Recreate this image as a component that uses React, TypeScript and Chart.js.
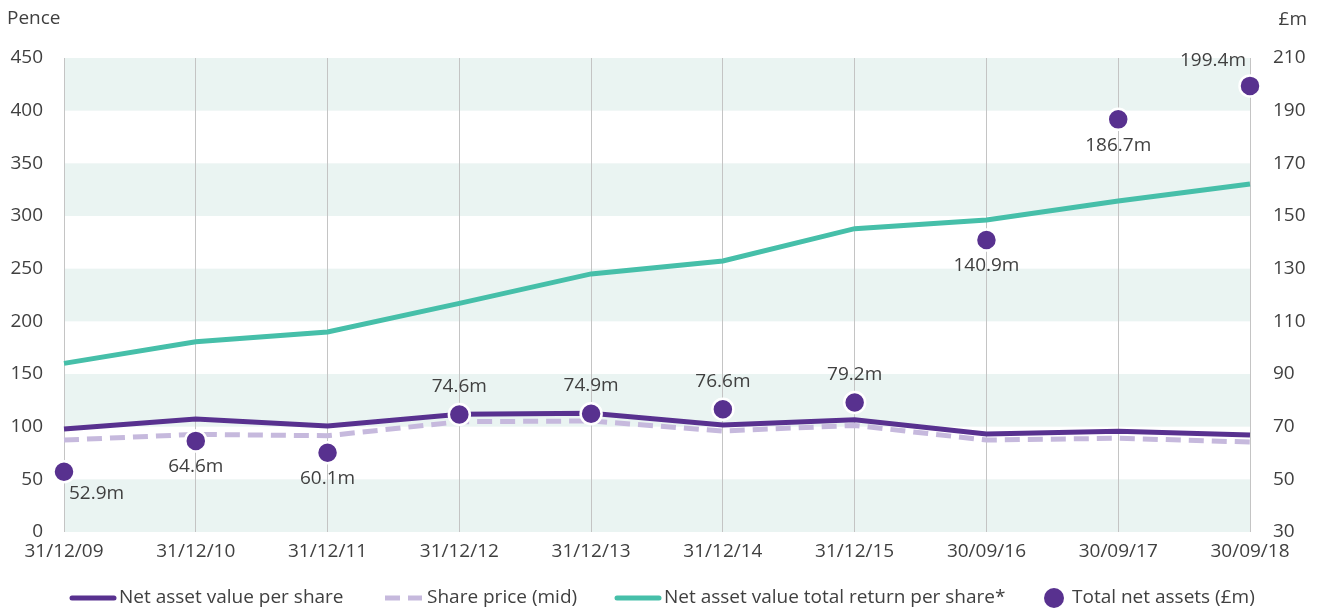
import React, { useEffect, useRef } from "react";
import { Chart, registerables } from "chart.js";

Chart.register(...registerables);

const categories = ["31/12/09", "31/12/10", "31/12/11", "31/12/12", "31/12/13", "31/12/14", "31/12/15", "30/09/16", "30/09/17", "30/09/18"];
const navPerShare = [97.8, 107.3, 100.6, 111.7, 112.7, 101.6, 106.5, 93, 95.6, 92];
const sharePrice = [87.3, 92.7, 91.4, 104.7, 105.4, 95.9, 101.2, 87.3, 89, 85.4];
const navTotalReturn = [160.1, 180.7, 189.9, 217, 245, 257.3, 288, 296.2, 314.2, 330.4];
const totalNetAssets = [52.9, 64.6, 60.1, 74.6, 74.9, 76.6, 79.2, 140.9, 186.7, 199.4];
const labelPlacement = ["belowRight", "below", "below", "above", "above", "above", "above", "below", "below", "aboveLeft"];

const seriesNames = ["Net asset value per share", "Share price (mid)", "Net asset value total return per share*", "Total net assets (£m)"];
const leftTitle = "Pence";
const rightTitle = "£m";

const PURPLE = "#58318f";
const LAVENDER = "#c6b9dd";
const TEAL = "#46bfa9";
const BAND = "#eaf4f2";
const TEXT = "#404040";
const FONT = "'Open Sans', sans-serif";
const FS = 19;

const bandsPlugin = {
  id: "bands",
  beforeDraw(chart: any) {
    const { ctx, chartArea, scales } = chart;
    const y = scales.y;
    ctx.save();
    ctx.fillStyle = BAND;
    for (let v = 0; v < 450; v += 100) {
      const top = y.getPixelForValue(v + 50);
      const bot = y.getPixelForValue(v);
      ctx.fillRect(chartArea.left, top, chartArea.right - chartArea.left, bot - top);
    }
    ctx.restore();
  },
};

const dotLabelsPlugin = {
  id: "dotLabels",
  afterDatasetsDraw(chart: any) {
    const { ctx } = chart;
    const meta = chart.getDatasetMeta(3);
    ctx.save();
    ctx.font = `${FS}px ${FONT}`;
    ctx.fillStyle = TEXT;
    ctx.textBaseline = "middle";
    meta.data.forEach((pt: any, i: number) => {
      const txt = `${totalNetAssets[i].toFixed(1)}m`;
      const p = labelPlacement[i];
      let x = pt.x;
      let y = pt.y;
      ctx.textAlign = "center";
      if (p === "below") y += 26;
      else if (p === "above") y -= 28;
      else if (p === "belowRight") {
        ctx.textAlign = "left";
        x += 5;
        y += 22;
      } else if (p === "aboveLeft") {
        ctx.textAlign = "right";
        x -= 4;
        y -= 25;
      }
      ctx.fillText(txt, x, y);
    });
    ctx.restore();
  },
};

const extrasPlugin = {
  id: "extras",
  afterDraw(chart: any) {
    const { ctx } = chart;
    ctx.save();
    ctx.font = `${FS}px ${FONT}`;
    ctx.fillStyle = TEXT;
    ctx.textBaseline = "middle";
    ctx.textAlign = "left";
    ctx.fillText(leftTitle, 7, 19);
    ctx.textAlign = "right";
    ctx.fillText(rightTitle, 1307, 20);

    // legend
    const ly = 598;
    const items = [
      { x0: 72, x1: 114, tx: 119, color: PURPLE, dash: [] as number[], kind: "line" },
      { x0: 385, x1: 422, tx: 427, color: LAVENDER, dash: [15, 8], kind: "line" },
      { x0: 617, x1: 659, tx: 664, color: TEAL, dash: [] as number[], kind: "line" },
      { x0: 1044, x1: 1064, tx: 1072, color: PURPLE, dash: [] as number[], kind: "dot" },
    ];
    items.forEach((it, i) => {
      if (it.kind === "line") {
        ctx.beginPath();
        ctx.strokeStyle = it.color;
        ctx.lineWidth = 5;
        ctx.lineCap = it.dash.length ? "butt" : "round";
        ctx.setLineDash(it.dash);
        ctx.moveTo(it.x0, ly);
        ctx.lineTo(it.x1, ly);
        ctx.stroke();
        ctx.setLineDash([]);
      } else {
        ctx.beginPath();
        ctx.fillStyle = it.color;
        ctx.arc((it.x0 + it.x1) / 2, ly, 10, 0, Math.PI * 2);
        ctx.fill();
      }
      ctx.fillStyle = TEXT;
      ctx.textAlign = "left";
      ctx.fillText(seriesNames[i], it.tx, ly);
    });
    ctx.restore();
  },
};

export default function App() {
  const ref = useRef<HTMLCanvasElement | null>(null);
  useEffect(() => {
    document.body.style.margin = "0";
    const canvas = ref.current!;
    const chart = new Chart(canvas, {
      type: "line",
      data: {
        labels: categories,
        datasets: [
          {
            label: seriesNames[0],
            data: navPerShare,
            borderColor: PURPLE,
            borderWidth: 5,
            pointRadius: 0,
            yAxisID: "y",
            order: 1,
            tension: 0,
          },
          {
            label: seriesNames[1],
            data: sharePrice,
            borderColor: LAVENDER,
            borderWidth: 5,
            borderDash: [15, 8],
            pointRadius: 0,
            yAxisID: "y",
            order: 2,
          },
          {
            label: seriesNames[2],
            data: navTotalReturn,
            borderColor: TEAL,
            borderWidth: 5,
            pointRadius: 0,
            yAxisID: "y",
            order: 3,
          },
          {
            label: seriesNames[3],
            data: totalNetAssets,
            showLine: false,
            pointRadius: 10.5,
            pointBackgroundColor: PURPLE,
            pointBorderColor: "#ffffff",
            pointBorderWidth: 2.5,
            yAxisID: "y1",
            order: 0,
          },
        ],
      },
      options: {
        animation: false,
        responsive: false,
        devicePixelRatio: 1,
        layout: { padding: { top: 58, left: 0, right: 0, bottom: 0 } },
        plugins: { legend: { display: false }, tooltip: { enabled: false } },
        scales: {
          x: {
            offset: false,
            grid: { color: "#c4c4c4", lineWidth: 1, drawTicks: false, offset: false },
            border: { display: false },
            ticks: { color: TEXT, font: { family: FONT, size: FS }, padding: 8, maxRotation: 0, autoSkip: false },
            afterFit(scale: any) {
              scale.height = 80;
            },
          },
          y: {
            position: "left",
            min: 0,
            max: 450,
            grid: { display: false, drawTicks: false },
            border: { display: false },
            ticks: { stepSize: 50, color: TEXT, font: { family: FONT, size: FS }, padding: 21 },
            afterFit(scale: any) {
              scale.width = 64;
            },
          },
          y1: {
            position: "right",
            min: 30,
            max: 210,
            grid: { display: false, drawTicks: false },
            border: { display: false },
            ticks: { stepSize: 20, color: TEXT, font: { family: FONT, size: FS }, padding: 23 },
            afterFit(scale: any) {
              scale.width = 72;
            },
          },
        },
      },
      plugins: [bandsPlugin, dotLabelsPlugin, extrasPlugin],
    });
    return () => chart.destroy();
  }, []);
  return (
    <div style={{ width: 1322, height: 612 }}>
      <canvas ref={ref} width={1322} height={612} style={{ display: "block" }} />
    </div>
  );
}
